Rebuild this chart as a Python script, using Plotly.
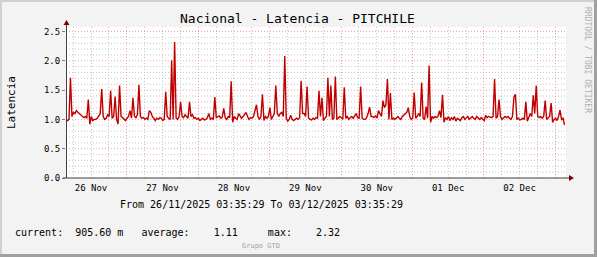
import datetime as dt
import plotly.graph_objects as go

# ---- data ----
start_time = "2025-11-26 03:35:29"
end_time = "2025-12-03 03:35:29"
step_minutes = 30
latency = [
    0.99, 0.98, 1.00, 1.71, 1.05, 1.12, 1.10, 1.15, 1.12, 1.10, 1.08, 1.05,
    1.03, 1.05, 1.02, 1.34, 0.92, 1.05, 0.98, 1.00, 1.00, 1.02, 1.05, 1.10,
    1.52, 1.05, 1.00, 1.02, 1.08, 1.05, 1.49, 1.02, 1.05, 1.39, 1.00, 0.92,
    1.58, 1.05, 1.03, 1.00, 0.98, 1.02, 1.05, 1.15, 1.02, 1.37, 1.05, 1.03,
    1.08, 1.59, 1.05, 1.02, 1.03, 1.00, 1.02, 1.00, 1.15, 1.12, 1.05, 1.02,
    0.98, 1.02, 1.00, 1.03, 1.02, 0.98, 1.00, 1.47, 1.05, 1.02, 1.00, 2.01,
    1.00, 2.32, 1.02, 1.00, 1.05, 1.30, 1.05, 1.03, 1.08, 1.05, 1.02, 1.30,
    1.05, 1.08, 1.02, 1.03, 1.00, 1.02, 0.98, 1.00, 1.02, 0.99, 1.00, 1.03,
    1.10, 1.00, 1.02, 1.00, 1.38, 1.03, 1.05, 1.06, 1.02, 1.04, 1.19, 1.03,
    1.00, 1.05, 1.03, 1.65, 0.95, 1.05, 1.02, 1.00, 1.10, 1.05, 1.02, 1.05,
    1.08, 1.12, 1.05, 1.00, 1.03, 1.02, 1.05, 1.15, 1.25, 1.05, 1.00, 1.05,
    1.43, 0.98, 1.05, 1.02, 1.05, 1.20, 1.00, 1.05, 1.10, 1.58, 1.10, 1.05,
    1.10, 1.12, 1.05, 2.08, 1.02, 0.97, 1.00, 1.07, 1.00, 0.98, 1.00, 1.02,
    1.00, 1.03, 1.66, 1.10, 1.10, 1.05, 1.56, 1.02, 1.00, 0.99, 1.02, 1.00,
    1.03, 1.02, 1.49, 1.05, 1.37, 0.98, 1.02, 1.05, 1.71, 1.05, 1.58, 1.00,
    1.02, 1.73, 1.00, 1.03, 1.05, 1.03, 1.00, 1.55, 1.02, 1.05, 1.00, 1.03,
    1.05, 1.02, 1.06, 1.10, 1.03, 1.02, 1.56, 1.02, 1.00, 1.00, 1.03, 1.10,
    1.21, 1.05, 1.05, 1.03, 1.06, 1.02, 1.15, 1.10, 1.05, 1.32, 1.20, 1.25,
    1.69, 1.00, 1.45, 1.00, 1.02, 1.00, 1.03, 1.05, 1.02, 1.00, 1.05, 1.08,
    1.10, 1.12, 1.20, 1.05, 1.00, 1.02, 1.46, 1.02, 1.05, 1.10, 1.05, 1.63,
    1.02, 1.00, 1.22, 1.02, 1.92, 0.95, 1.05, 1.02, 1.05, 1.03, 1.05, 1.15,
    1.03, 1.42, 0.95, 1.03, 1.00, 1.05, 0.98, 1.03, 1.00, 1.05, 0.97, 1.02,
    1.00, 0.98, 1.03, 1.05, 1.00, 1.02, 1.05, 1.00, 1.03, 1.05, 1.02, 1.00,
    1.05, 1.02, 1.00, 1.03, 1.00, 0.98, 1.07, 1.03, 1.05, 1.04, 1.03, 1.05,
    1.69, 1.02, 1.05, 1.34, 1.05, 1.00, 1.02, 1.05, 1.03, 1.05, 1.02, 1.00,
    1.05, 1.38, 1.43, 1.00, 1.02, 0.99, 1.00, 1.02, 1.00, 1.30, 0.97, 1.05,
    1.10, 1.05, 1.41, 1.10, 1.58, 1.05, 1.03, 1.05, 1.02, 1.05, 1.32, 1.00,
    1.02, 1.05, 1.28, 0.95, 1.00, 1.02, 0.98, 1.05, 1.16, 1.00, 1.02, 0.9056,
]
y_major_ticks = [0.0, 0.5, 1.0, 1.5, 2.0, 2.5]
y_minor_step = 0.1
title = "Nacional - Latencia - PITCHILE"
y_label = "Latencia"
range_text = "From 26/11/2025 03:35:29 To 03/12/2025 03:35:29"
stats_text = "current:  905.60 m   average:    1.11     max:    2.32"
footer_text = "Grupo GTD"
side_text = "RRDTOOL / TOBI OETIKER"

t0 = dt.datetime.strptime(start_time, "%Y-%m-%d %H:%M:%S")
times = [t0 + dt.timedelta(minutes=step_minutes * i) for i in range(len(latency))]

# ---- geometry helpers (pixels -> paper) ----
W, H = 597, 257
L, R, T, B = 66, 31, 27, 79
PW, PH = W - L - R, H - T - B


def px(x):
    return (x - L) / PW


def py(y):
    return (H - B - y) / PH


MONO = "DejaVu Sans Mono"
MAJOR = "rgba(240,120,120,0.7)"
MINOR = "rgba(185,185,185,0.8)"
DASH = "1px,2px"

fig = go.Figure()
fig.add_trace(go.Scatter(x=times, y=latency, mode="lines",
                         line=dict(color="#C00000", width=1.4), hoverinfo="skip"))

fig.update_layout(
    width=W, height=H,
    margin=dict(l=L, r=R, t=T, b=B),
    paper_bgcolor="#F3F3F3", plot_bgcolor="#FFFFFF",
    showlegend=False,
    font=dict(family=MONO, size=9, color="#000000"),
    xaxis=dict(
        type="date", range=[start_time, end_time],
        dtick=86400000, tick0="2025-11-26 00:00:00",
        ticklabelmode="period", tickformat="%d %b",
        showgrid=True, gridcolor=MAJOR, griddash=DASH, gridwidth=1,
        minor=dict(dtick=21600000, tick0="2025-11-26 00:00:00", showgrid=True,
                   gridcolor=MINOR, griddash=DASH, gridwidth=1),
        ticks="", showline=False, zeroline=False, ticklabelstandoff=3,
        tickfont=dict(family=MONO, size=9), fixedrange=True,
    ),
    yaxis=dict(
        range=[0, 2.577], tickvals=y_major_ticks, tickformat=".1f",
        showgrid=False,
        ticks="outside", ticklen=3, tickcolor="#808080",
        showline=False, zeroline=False,
        tickfont=dict(family=MONO, size=9), fixedrange=True,
    ),
)

shapes = []
# horizontal grid (minor grey, major red), derived from y tick values
n_minor = int(round(max(y_major_ticks) / y_minor_step))
for k in range(n_minor + 1):
    v = round(k * y_minor_step, 2)
    is_major = any(abs(v - m) < 1e-9 for m in y_major_ticks)
    if v == 0:
        continue
    shapes.append(dict(type="line", xref="paper", yref="y", layer="below",
                       x0=0, x1=1, y0=v, y1=v,
                       line=dict(color=MAJOR if is_major else MINOR, width=1, dash=DASH)))
# axis lines
shapes.append(dict(type="line", xref="paper", yref="paper",
                   x0=px(66.5), x1=px(66.5), y0=py(178), y1=py(24),
                   line=dict(color="#404040", width=1)))
shapes.append(dict(type="line", xref="paper", yref="paper",
                   x0=px(63), x1=px(570), y0=py(178), y1=py(178),
                   line=dict(color="#404040", width=1)))
# arrow heads
shapes.append(dict(type="path", xref="paper", yref="paper",
                   path=f"M {px(63.5)},{py(25)} L {px(69.5)},{py(25)} L {px(66.5)},{py(20)} Z",
                   fillcolor="#800000", line=dict(color="#800000", width=0)))
shapes.append(dict(type="path", xref="paper", yref="paper",
                   path=f"M {px(569)},{py(175)} L {px(569)},{py(181)} L {px(574)},{py(178)} Z",
                   fillcolor="#800000", line=dict(color="#800000", width=0)))
# frame
shapes.append(dict(type="rect", xref="paper", yref="paper", layer="above",
                   x0=px(0), x1=px(597), y0=py(0), y1=py(2),
                   fillcolor="#D0D0D0", line=dict(width=0)))
shapes.append(dict(type="rect", xref="paper", yref="paper", layer="above",
                   x0=px(0), x1=px(2), y0=py(0), y1=py(257),
                   fillcolor="#D0D0D0", line=dict(width=0)))
shapes.append(dict(type="rect", xref="paper", yref="paper", layer="above",
                   x0=px(594), x1=px(597), y0=py(0), y1=py(257),
                   fillcolor="#A0A0A0", line=dict(width=0)))
shapes.append(dict(type="rect", xref="paper", yref="paper", layer="above",
                   x0=px(0), x1=px(597), y0=py(254), y1=py(257),
                   fillcolor="#A0A0A0", line=dict(width=0)))
fig.update_layout(shapes=shapes)

ann = []
ann.append(dict(text=title, xref="paper", yref="paper", x=px(297), y=py(19),
                showarrow=False, xanchor="center", yanchor="middle",
                font=dict(family=MONO, size=13, color="#000000")))
ann.append(dict(text=y_label, xref="paper", yref="paper", x=px(11), y=py(103),
                showarrow=False, xanchor="center", yanchor="middle", textangle=-90,
                font=dict(family=MONO, size=11, color="#000000")))
ann.append(dict(text=range_text, xref="paper", yref="paper", x=px(261), y=py(204),
                showarrow=False, xanchor="center", yanchor="middle",
                font=dict(family=MONO, size=10, color="#000000")))
ann.append(dict(text=stats_text.replace(" ", "&nbsp;"), xref="paper", yref="paper",
                x=px(13), y=py(232), showarrow=False, xanchor="left", yanchor="middle",
                font=dict(family=MONO, size=10, color="#000000")))
ann.append(dict(text=footer_text, xref="paper", yref="paper", x=px(261), y=py(246),
                showarrow=False, xanchor="center", yanchor="middle",
                font=dict(family=MONO, size=7, color="#A0A0A0")))
ann.append(dict(text=side_text, xref="paper", yref="paper", x=px(588), y=py(60),
                showarrow=False, xanchor="center", yanchor="middle", textangle=90,
                font=dict(family=MONO, size=8, color="#B0B0B0")))
fig.update_layout(annotations=ann)

fig.write_html("out.html")
